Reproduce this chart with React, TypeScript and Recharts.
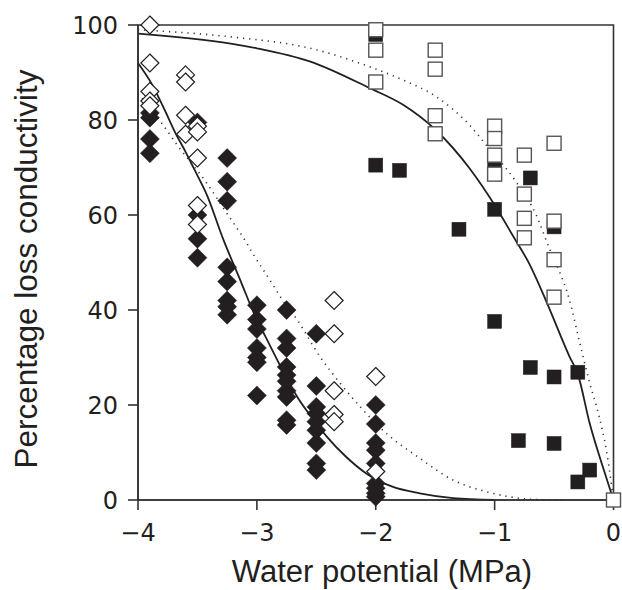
import { ComposedChart, Label, Line, ReferenceArea, Scatter, XAxis, YAxis } from "recharts";

type Pt = [number, number];

// water potential (MPa), percentage loss of conductivity
const filledDiamonds: Pt[] = [
  [-3.9, 81.5], [-3.9, 80.5], [-3.9, 76], [-3.9, 73],
  [-3.5, 79.5], [-3.5, 60], [-3.5, 55], [-3.5, 51],
  [-3.25, 72], [-3.25, 67], [-3.25, 63], [-3.25, 49], [-3.25, 46], [-3.25, 42], [-3.25, 40.7], [-3.25, 39],
  [-3, 41], [-3, 38], [-3, 36], [-3, 32], [-3, 30], [-3, 29], [-3, 22],
  [-2.75, 40], [-2.75, 34], [-2.75, 32], [-2.75, 28], [-2.75, 26.3], [-2.75, 25], [-2.75, 23], [-2.75, 21.7], [-2.75, 16.8], [-2.75, 15.8],
  [-2.5, 35], [-2.5, 24], [-2.5, 19.6], [-2.5, 18.2], [-2.5, 16.5], [-2.5, 14.7], [-2.5, 12], [-2.5, 7.7], [-2.5, 6.3],
  [-2, 20], [-2, 16], [-2, 12], [-2, 10.5], [-2, 7.7], [-2, 3.5], [-2, 2.5], [-2, 1.4], [-2, 0.7],
];

const openDiamonds: Pt[] = [
  [-3.9, 100], [-3.9, 92], [-3.9, 86], [-3.9, 84], [-3.9, 83],
  [-3.6, 89.5], [-3.6, 88], [-3.6, 81], [-3.6, 77],
  [-3.5, 78.7], [-3.5, 77.5], [-3.5, 72], [-3.5, 62], [-3.5, 58],
  [-2.35, 42], [-2.35, 35], [-2.35, 23], [-2.35, 18], [-2.35, 16.5],
  [-2, 26], [-2, 6],
];

const filledSquares: Pt[] = [
  [-2, 98], [-2, 70.5], [-1.8, 69.4], [-1.3, 57], [-1, 71], [-1, 61.2], [-1, 37.6],
  [-0.8, 12.5], [-0.7, 67.8], [-0.7, 27.9], [-0.5, 57.5], [-0.5, 25.9], [-0.5, 11.9],
  [-0.3, 26.9], [-0.3, 3.8], [-0.2, 6.3],
];

const openSquares: Pt[] = [
  [-2, 99], [-2, 94.7], [-2, 88],
  [-1.5, 94.7], [-1.5, 90.7], [-1.5, 80.9], [-1.5, 77.1],
  [-1, 78.7], [-1, 76.1], [-1, 72.6], [-1, 68.6],
  [-0.75, 72.6], [-0.75, 64.4], [-0.75, 59.3], [-0.75, 55.2],
  [-0.5, 75.1], [-0.5, 58.7], [-0.5, 50.6], [-0.5, 42.7],
  [0, 0],
];

// fitted curves
const diamondFit: Pt[] = [
  [-4, 92], [-3.88, 87.4], [-3.77, 81.8], [-3.69, 77.5], [-3.6, 73.3], [-3.53, 69.8],
  [-3.42, 64.2], [-3.28, 54.7], [-3.14, 46.3], [-3, 37.9], [-2.93, 34.5], [-2.8, 28.1],
  [-2.66, 21.7], [-2.52, 16.8], [-2.41, 13.3], [-2.25, 9.1], [-2.08, 5.6], [-1.86, 2.8],
  [-1.63, 1.4], [-1.35, 0.4], [-1, 0],
];

const diamondFitDotted: Pt[] = [
  [-4, 85.5], [-3.8, 79.3], [-3.66, 74.4], [-3.43, 67], [-3.34, 63.7], [-3.27, 61],
  [-3.18, 57.7], [-3.1, 54.7], [-3.03, 51.7], [-2.95, 48.6], [-2.87, 45.5], [-2.79, 42.3],
  [-2.66, 37.9], [-2.47, 30.2], [-2.3, 24.6], [-2.13, 19.6], [-1.91, 14], [-1.63, 8.8],
  [-1.35, 4.2], [-1.07, 1.75], [-0.65, 0.1], [-0.4, 0],
];

const squareFit: Pt[] = [
  [-4, 98.2], [-3.22, 96.1], [-3, 95.1], [-2.55, 92.3], [-2.05, 86.7], [-1.77, 83.2],
  [-1.5, 78], [-1.21, 69.8], [-1, 62.1], [-0.85, 55.8], [-0.71, 49.8], [-0.57, 42.1],
  [-0.37, 30.2], [-0.3, 26.5], [-0.2, 16.1], [-0.09, 7], [0, 0],
];

const squareFitDotted: Pt[] = [
  [-4, 99], [-3.22, 97.5], [-2.55, 95.1], [-2.05, 91.2], [-1.77, 88.4], [-1.49, 84.9],
  [-1.21, 78.9], [-1.07, 74.7], [-0.82, 67], [-0.65, 60], [-0.54, 53], [-0.46, 48.4],
  [-0.37, 42.1], [-0.29, 33.7], [-0.2, 24.6], [-0.12, 17.5], [-0.06, 10.5], [0, 0],
];

const xTicks = [-4, -3, -2, -1, 0];
const yTicks = [0, 20, 40, 60, 80, 100];

const INK = "#231f20";
const rows = (pts: Pt[]) => pts.map(([x, y]) => ({ x, y }));

function diamond(filled: boolean) {
  return (p: any) => {
    const r = filled ? 9.5 : 9;
    const { cx, cy } = p;
    return (
      <path
        d={`M${cx},${cy - r}L${cx + r},${cy}L${cx},${cy + r}L${cx - r},${cy}Z`}
        fill={filled ? INK : "#fff"}
        stroke={INK}
        strokeWidth={filled ? 0.5 : 1.2}
      />
    );
  };
}

function square(filled: boolean) {
  return (p: any) => {
    const h = 7;
    return (
      <rect
        x={p.cx - h}
        y={p.cy - h}
        width={h * 2}
        height={h * 2}
        fill={filled ? INK : "#fff"}
        stroke={filled ? INK : "#555"}
        strokeWidth={filled ? 0.5 : 1.4}
      />
    );
  };
}

const minus = (v: number) => (v < 0 ? `\u2212${Math.abs(v)}` : `${v}`);
const tickStyle = { fontFamily: "DejaVu Sans", fontSize: 24, fill: INK };
const labelFont = "'Liberation Sans', Arial, sans-serif";

export default function App() {
  return (
    <div style={{ width: 622, height: 590 }}>
      <style>{"body{margin:0}"}</style>
      <ComposedChart width={622} height={590} margin={{ top: 25, right: 8.5, bottom: 0, left: 0 }}>
        <XAxis
          type="number"
          dataKey="x"
          domain={[-4, 0]}
          ticks={xTicks}
          tickFormatter={minus}
          height={90}
          tickSize={10}
          tickMargin={14}
          tick={tickStyle}
          stroke="#333"
          strokeWidth={1.6}
        >
          <Label
            content={() => (
              <text x={382} y={582} textAnchor="middle" fontFamily={labelFont} fontSize={31} fill={INK}>
                Water potential (MPa)
              </text>
            )}
          />
        </XAxis>
        <YAxis
          type="number"
          dataKey="y"
          domain={[0, 100]}
          ticks={yTicks}
          width={138}
          tickSize={10}
          tickMargin={10}
          tick={tickStyle}
          stroke="#333"
          strokeWidth={1.6}
        >
          <Label
            content={() => (
              <text
                x={37}
                y={269}
                transform="rotate(-90 37 269)"
                textAnchor="middle"
                fontFamily={labelFont}
                fontSize={31.5}
                fill={INK}
              >
                Percentage loss conductivity
              </text>
            )}
          />
        </YAxis>
        <ReferenceArea x1={-4} x2={0} y1={0} y2={100} fill="none" fillOpacity={0} stroke="#333" strokeWidth={1.6} />
        <Scatter data={rows(filledSquares)} shape={square(true)} isAnimationActive={false} />
        <Scatter data={rows(filledDiamonds)} shape={diamond(true)} isAnimationActive={false} />
        <Scatter data={rows(openSquares)} shape={square(false)} isAnimationActive={false} />
        <Scatter data={rows(openDiamonds)} shape={diamond(false)} isAnimationActive={false} />
        <Line data={rows(diamondFit)} dataKey="y" type="monotone" stroke={INK} strokeWidth={1.8} dot={false} isAnimationActive={false} />
        <Line data={rows(squareFit)} dataKey="y" type="monotone" stroke={INK} strokeWidth={1.8} dot={false} isAnimationActive={false} />
        <Line data={rows(diamondFitDotted)} dataKey="y" type="monotone" stroke="#333" strokeWidth={1.6} strokeDasharray="1.2 5" dot={false} isAnimationActive={false} />
        <Line data={rows(squareFitDotted)} dataKey="y" type="monotone" stroke="#333" strokeWidth={1.6} strokeDasharray="1.2 5" dot={false} isAnimationActive={false} />
      </ComposedChart>
    </div>
  );
}
